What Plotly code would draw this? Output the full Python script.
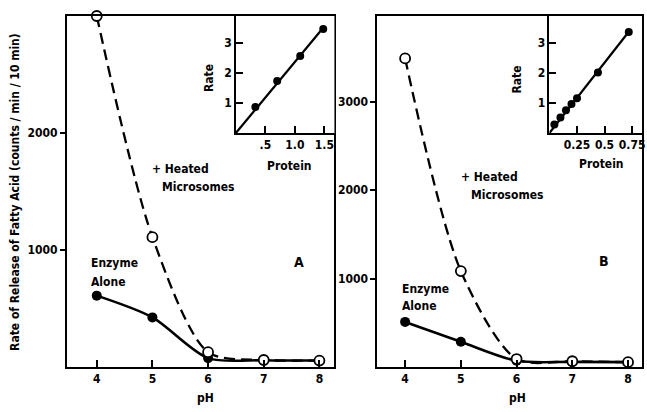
import plotly.graph_objects as go

# ---- data ----
ph = [4, 5, 6, 7, 8]
heated_a = [3000, 1110, 127, 60, 55]
enzyme_a = [610, 424, 76, 58, 55]
heated_b = [3490, 1085, 90, 65, 55]
enzyme_b = [510, 285, 70, 58, 55]

protein_a = [0.33, 0.70, 1.09, 1.48]
rate_a = [0.87, 1.73, 2.57, 3.47]
protein_b = [0.045, 0.10, 0.15, 0.20, 0.25, 0.44, 0.72]
rate_b = [0.28, 0.52, 0.76, 0.97, 1.16, 2.02, 3.37]

main_x_ticks = [4, 5, 6, 7, 8]
a_y_ticks = [1000, 2000]
b_y_ticks = [1000, 2000, 3000]
inset_a_xticks = [0.5, 1.0, 1.5]
inset_a_xlabels = [".5", "1.0", "1.5"]
inset_b_xticks = [0.25, 0.5, 0.75]
inset_b_xlabels = ["0.25", "0.5", "0.75"]
inset_y_ticks = [1, 2, 3]

W, H = 647, 412
FONT = "Liberation Sans Narrow, DejaVu Sans Condensed, Arial Narrow, sans-serif"


def px(x):
    return x / W


def py(y):
    return 1 - y / H


def origin_fit(xs, ys):
    k = sum(a * b for a, b in zip(xs, ys)) / sum(a * a for a in xs)
    return [0, max(xs)], [0, k * max(xs)]


fig = go.Figure()

for xa, ya, heated, enzyme in (("x", "y", heated_a, enzyme_a), ("x2", "y2", heated_b, enzyme_b)):
    fig.add_trace(go.Scatter(x=ph, y=enzyme, xaxis=xa, yaxis=ya, mode="lines+markers",
                             line=dict(color="black", width=2.6, shape="spline", smoothing=0.8),
                             marker=dict(color="black", size=10), showlegend=False))
    fig.add_trace(go.Scatter(x=ph, y=heated, xaxis=xa, yaxis=ya, mode="lines+markers",
                             line=dict(color="black", width=2.3, dash="11px,6px", shape="spline", smoothing=0.8),
                             marker=dict(color="white", size=10, line=dict(color="black", width=1.8)),
                             showlegend=False, cliponaxis=False))

for xa, ya, prot, rate in (("x3", "y3", protein_a, rate_a), ("x4", "y4", protein_b, rate_b)):
    fx, fy = origin_fit(prot, rate)
    fig.add_trace(go.Scatter(x=fx, y=fy, xaxis=xa, yaxis=ya, mode="lines",
                             line=dict(color="black", width=2.2), showlegend=False))
    fig.add_trace(go.Scatter(x=prot, y=rate, xaxis=xa, yaxis=ya, mode="markers",
                             marker=dict(color="black", size=8), showlegend=False))

tickfont = dict(family=FONT, size=12, color="black", weight="bold")
common = dict(showgrid=False, zeroline=False, showline=True, linecolor="black", linewidth=1.6,
              ticks="inside", ticklen=7, tickwidth=1.5, tickcolor="black", tickfont=tickfont,
              ticklabeloverflow="allow")

ydomain = [py(367), py(16)]
inset_ydomain = [py(133), py(16)]

fig.update_layout(
    width=W, height=H, margin=dict(l=0, r=0, t=0, b=0),
    paper_bgcolor="white", plot_bgcolor="white",
    xaxis=dict(domain=[px(67), px(336)], range=[3.46, 8.27], tickvals=main_x_ticks, anchor="y", mirror=True, **common),
    yaxis=dict(domain=ydomain, range=[0, 3000], tickvals=a_y_ticks, anchor="x", mirror=True, **common),
    xaxis2=dict(domain=[px(379), px(645)], range=[3.5, 8.25], tickvals=main_x_ticks, anchor="y2", mirror=True, **common),
    yaxis2=dict(domain=ydomain, range=[0, 3970], tickvals=b_y_ticks, anchor="x2", mirror=True, **common),
    xaxis3=dict(domain=[px(237), px(336)], range=[0, 1.67], tickvals=inset_a_xticks, ticktext=inset_a_xlabels,
                anchor="y3", **common),
    yaxis3=dict(domain=inset_ydomain, range=[0, 3.9], tickvals=inset_y_ticks, anchor="x3", **common),
    xaxis4=dict(domain=[px(552), px(645)], range=[0, 0.84], tickvals=inset_b_xticks, ticktext=inset_b_xlabels,
                anchor="y4", **common),
    yaxis4=dict(domain=inset_ydomain, range=[0, 3.9], tickvals=inset_y_ticks, anchor="x4", **common),
)

fig.update_yaxes(selector=dict(anchor="x"), ticks="outside", ticklen=5)
fig.update_yaxes(selector=dict(anchor="x2"), ticks="outside", ticklen=5)


def note(text, x, y, size=12, angle=0, xanchor="center"):
    fig.add_annotation(text=text, x=px(x), y=py(y), xref="paper", yref="paper", showarrow=False,
                       textangle=angle, xanchor=xanchor, yanchor="middle",
                       font=dict(family=FONT, size=size, color="black", weight="bold"))


note("Rate of Release of Fatty Acid (counts / min / 10 min)", 15, 192, size=12, angle=-90)
note("pH", 206, 398)
note("pH", 520, 398)
note("+ Heated", 151, 169, xanchor="left")
note("Microsomes", 161, 187, xanchor="left")
note("Enzyme", 89, 263, xanchor="left")
note("Alone", 89, 282, xanchor="left")
note("A", 300, 262, size=14)
note("+ Heated", 461, 177, xanchor="left")
note("Microsomes", 471, 195, xanchor="left")
note("Enzyme", 402, 289, xanchor="left")
note("Alone", 402, 306, xanchor="left")
note("B", 607, 261, size=14)
note("Rate", 210, 78, angle=-90)
note("Protein", 291, 166)
note("Rate", 519, 80, angle=-90)
note("Protein", 604, 164)

fig.write_html("out.html")
